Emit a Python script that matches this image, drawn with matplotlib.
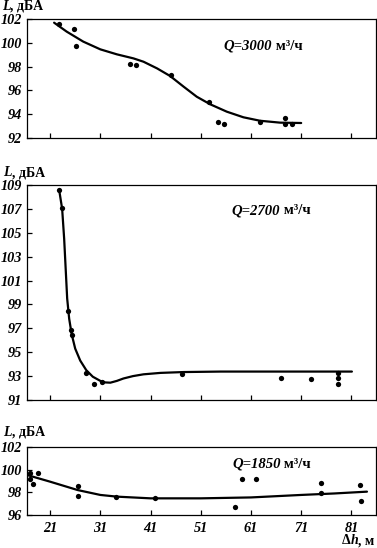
import matplotlib
matplotlib.use("Agg")
import matplotlib.pyplot as plt

W, H = 377, 548

# ---------------- data ----------------
x_ticks = [21, 31, 41, 51, 61, 71, 81]

# Q = 3000
q1_x = [22.7, 25.8, 26.2, 36.9, 38.1, 45.0, 52.6, 54.5, 55.7, 62.8, 67.8, 67.7, 69.2]
q1_y = [101.55, 101.16, 99.76, 98.19, 98.1, 97.27, 95.05, 93.32, 93.15, 93.32, 93.7, 93.18, 93.18]
q1_cx = [21.8, 24.3, 27.6, 31.0, 34.3, 37.6, 39.6, 42.3, 44.9, 47.6, 50.2, 52.9, 56.2, 59.5, 62.8, 66.8, 71.0]
q1_cy = [101.69, 100.94, 100.1, 99.45, 99.03, 98.69, 98.41, 97.85, 97.21, 96.31, 95.47, 94.83, 94.21, 93.74, 93.45, 93.29, 93.26]
q1_yticks = [92, 94, 96, 98, 100, 102]

# Q = 2700
q2_x = [22.8, 23.4, 24.6, 25.2, 25.4, 28.1, 29.8, 31.4, 47.3, 67.0, 73.0, 78.4, 78.4, 78.4]
q2_y = [108.6, 107.1, 98.45, 96.9, 96.4, 93.3, 92.35, 92.5, 93.15, 92.85, 92.8, 93.3, 92.85, 92.3]
q2_cx = [22.8, 23.4, 23.8, 24.1, 24.4, 24.8, 25.3, 26.0, 27.0, 28.2, 29.5, 31.0, 32.0, 33.0,
         34.3, 35.6, 37.5, 39.6, 43.0, 47.6, 55.0, 65.0, 81.1]
q2_cy = [108.6, 107.0, 104.5, 102.0, 99.5, 97.8, 96.5, 95.3, 94.3, 93.5, 92.95, 92.6, 92.47, 92.45,
         92.6, 92.8, 93.0, 93.15, 93.27, 93.34, 93.38, 93.38, 93.38]
q2_yticks = [91, 93, 95, 97, 99, 101, 103, 105, 107, 109]

# Q = 1850
q3_x = [16.9, 16.9, 17.5, 18.5, 26.5, 26.5, 34.1, 41.8, 57.9, 59.3, 62.1, 75.0, 75.0, 82.75, 82.9]
q3_y = [99.73, 99.2, 98.74, 99.73, 98.59, 97.68, 97.62, 97.5, 96.73, 99.18, 99.18, 98.8, 97.9, 98.65, 97.2]
q3_cx = [16.4, 21.0, 26.5, 31.0, 34.3, 41.0, 51.0, 61.0, 71.0, 77.6, 84.1]
q3_cy = [99.53, 98.94, 98.2, 97.77, 97.62, 97.47, 97.47, 97.55, 97.77, 97.9, 98.06]
q3_yticks = [96, 98, 100, 102]

labels_q = ["Q=3000", "Q=2700", "Q=1850"]

# ---------------- drawing ----------------
fig = plt.figure(figsize=(W / 100, H / 100), dpi=100)
FONT = "Liberation Serif"
tick_font = dict(family=FONT, weight="bold", style="italic", size=10.3)


def px_rect(left, right, top, bottom):
    return [left / W, 1 - bottom / H, (right - left) / W, (bottom - top) / H]


def fpos(x, y):
    return (x / W, 1 - y / H)


panels = [
    (px_rect(27, 376, 19, 138), q1_x, q1_y, q1_cx, q1_cy, q1_yticks, (92, 102), False),
    (px_rect(27, 376, 185, 400), q2_x, q2_y, q2_cx, q2_cy, q2_yticks, (91, 109), False),
    (px_rect(27, 376, 447, 515), q3_x, q3_y, q3_cx, q3_cy, q3_yticks, (96, 102), True),
]

axes = []
for rect, xs, ys, cx, cy, yt, ylim, show_x in panels:
    ax = fig.add_axes(rect)
    ax.plot(cx, cy, color="black", lw=1.6, solid_capstyle="round", solid_joinstyle="round")
    ax.plot(xs, ys, "o", color="black", ms=3.8, mew=0)
    ax.set_xlim(16.4, 85.9)
    ax.set_ylim(*ylim)
    ax.set_xticks(x_ticks)
    ax.set_yticks(yt)
    for s in ax.spines.values():
        s.set_linewidth(0.9)
    ax.tick_params(direction="in", length=3.5, width=0.9, pad=3.5)
    ax.tick_params(axis="x", pad=5)
    ax.set_yticklabels([str(v) for v in yt], fontdict=tick_font)
    if show_x:
        ax.set_xticklabels([str(v) for v in x_ticks], fontdict=tick_font)
    else:
        ax.set_xticklabels([])
    axes.append(ax)

renderer = fig.canvas.get_renderer()


def chain(x, y, parts, size=10):
    """Place a sequence of (text, style) pieces one after another at pixel (x, y)."""
    fx, fy = fpos(x, y)
    for txt, style in parts:
        t = fig.text(fx, fy, txt, family=FONT, weight="bold", style=style,
                     size=size, ha="left", va="center")
        bb = t.get_window_extent(renderer)
        fx = bb.x1 / fig.bbox.width


# annotations "Q=... м³/ч"
q_pos = [(223, 46), (231, 211), (232, 464)]
for lab, (x, y) in zip(labels_q, q_pos):
    chain(x, y, [(lab, "italic"), (" м³/ч", "normal")], size=10.6)

# "L, дБА" labels
for (x, y) in [(2, 6), (3, 173), (3, 432)]:
    chain(x, y, [("L", "italic"), (", дБА", "normal")])

# "Δh, м"
chain(342, 541, [("Δ", "normal"), ("h", "italic"), (", м", "normal")])

fig.savefig("out.png", dpi=100)
